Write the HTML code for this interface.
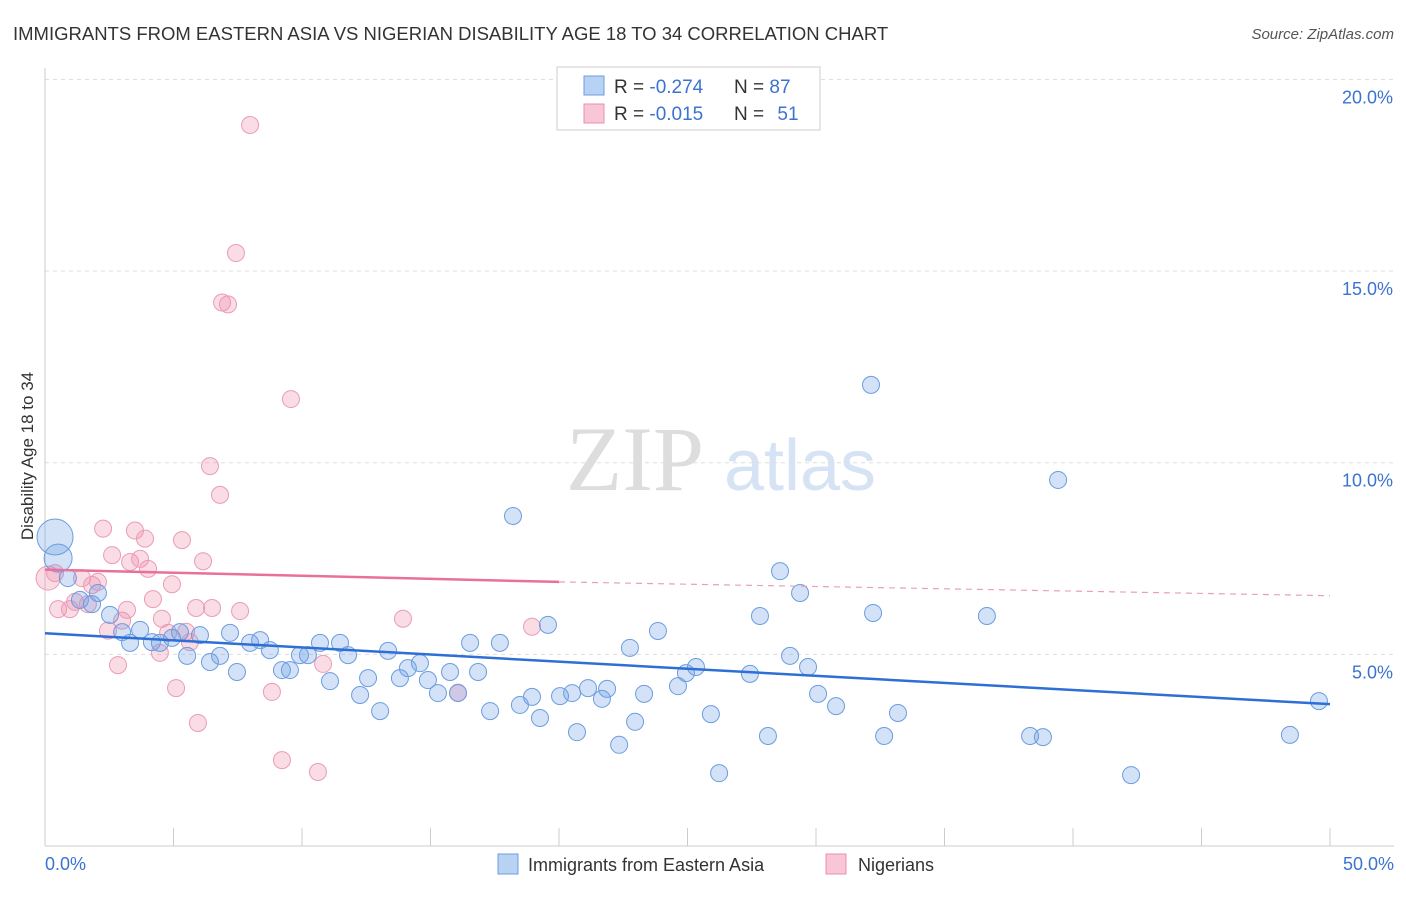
<!DOCTYPE html>
<html><head><meta charset="utf-8"><style>
body{margin:0;background:#fff;font-family:"Liberation Sans",sans-serif}
</style></head><body>
<svg id="chart" width="1406" height="892" xmlns="http://www.w3.org/2000/svg" font-family="Liberation Sans, sans-serif">
<text x="13" y="40" font-size="18.5" fill="#333">IMMIGRANTS FROM EASTERN ASIA VS NIGERIAN DISABILITY AGE 18 TO 34 CORRELATION CHART</text>
<text x="1394" y="39" font-size="15" fill="#555" text-anchor="end" font-style="italic">Source: ZipAtlas.com</text>
<g>
<text x="635" y="490" font-size="92" fill="#ddd" text-anchor="middle" font-family="Liberation Serif, serif">ZIP</text>
<text x="800" y="490" font-size="72" fill="#d5e3f5" text-anchor="middle">atlas</text>
</g>
<g id="grid"></g>
<g id="axes"></g>
<g id="points"></g>
<g id="trends"></g>
<text transform="translate(33,456) rotate(-90)" font-size="17" fill="#333" text-anchor="middle">Disability Age 18 to 34</text>
<g>
<rect x="557" y="67" width="263" height="63" fill="#fff" stroke="#ccc"/>
<rect x="584" y="76" width="20" height="19" fill="#b8d2f3" stroke="#6b9de0"/>
<rect x="584" y="104" width="20" height="19" fill="#f9c6d6" stroke="#e890b0"/>
<text x="614" y="93" font-size="19" fill="#333">R = <tspan fill="#3b73d0">-0.274</tspan></text>
<text x="734" y="93" font-size="19" fill="#333">N = <tspan fill="#3b73d0">87</tspan></text>
<text x="614" y="120" font-size="19" fill="#333">R = <tspan fill="#3b73d0">-0.015</tspan></text>
<text x="734" y="120" font-size="19" fill="#333">N = <tspan fill="#3b73d0" dx="8">51</tspan></text>
</g>
<g>
<rect x="498" y="854" width="20" height="20" fill="#b8d2f3" stroke="#6b9de0"/>
<text x="528" y="871" font-size="18" fill="#333">Immigrants from Eastern Asia</text>
<rect x="826" y="854" width="20" height="20" fill="#f9c6d6" stroke="#e890b0"/>
<text x="858" y="871" font-size="18" fill="#333">Nigerians</text>
</g>
</svg>
<script>
const yTicks=[5,10,15,20];
const yTickLabels=["5.0%","10.0%","15.0%","20.0%"];
const xTickLabels=["0.0%","50.0%"];
const blueX=[0.39,0.51,0.89,1.36,1.83,2.06,2.53,3.00,3.31,3.70,4.16,4.47,4.94,5.25,5.53,6.03,6.42,6.81,7.20,7.47,7.98,8.37,8.75,9.22,9.53,9.92,10.23,10.70,11.09,11.48,11.79,12.26,12.57,13.04,13.35,13.81,14.12,14.59,14.90,15.29,15.76,16.07,16.54,16.85,17.32,17.70,18.21,18.48,18.95,19.26,19.57,20.04,20.51,20.70,21.13,21.67,21.87,22.34,22.76,22.96,23.31,23.85,24.63,24.94,25.33,25.91,26.23,27.43,27.82,28.13,28.60,28.99,29.38,29.69,30.08,30.78,32.14,32.22,32.65,33.19,36.65,38.33,38.83,39.42,42.26,48.44,49.57];
const blueY=[8.06,7.51,6.99,6.42,6.31,6.60,6.03,5.58,5.30,5.64,5.32,5.30,5.43,5.58,4.96,5.50,4.80,4.96,5.56,4.54,5.30,5.37,5.11,4.59,4.59,4.98,4.98,5.30,4.30,5.30,4.98,3.94,4.38,3.52,5.09,4.38,4.64,4.77,4.33,3.99,4.54,3.99,5.30,4.54,3.52,5.30,8.61,3.68,3.89,3.34,5.77,3.91,3.99,2.97,4.12,3.84,4.10,2.64,5.17,3.24,3.97,5.61,4.17,4.51,4.67,3.44,1.90,4.49,6.00,2.87,7.17,4.96,6.60,4.67,3.97,3.65,12.03,6.08,2.87,3.47,6.00,2.87,2.84,9.55,1.85,2.90,3.78];
const pinkX=[0.12,0.39,0.51,0.97,1.17,1.44,1.67,1.83,2.06,2.26,2.45,2.61,2.84,3.00,3.19,3.31,3.50,3.70,3.89,4.01,4.20,4.47,4.55,4.79,4.94,5.10,5.33,5.49,5.64,5.88,5.95,6.15,6.42,6.50,6.81,6.89,7.12,7.43,7.59,7.98,8.83,9.22,9.57,10.62,10.82,13.93,16.07,18.95];
const pinkY=[6.99,7.12,6.18,6.18,6.37,6.99,6.31,6.81,6.89,8.28,5.62,7.59,4.72,5.88,6.16,7.41,8.23,7.49,8.02,7.23,6.44,5.04,5.93,5.56,6.83,4.12,7.98,5.59,5.32,6.21,3.21,7.43,9.91,6.21,9.16,14.18,14.13,15.47,6.13,18.81,4.02,2.24,11.66,1.93,4.75,5.93,4.00,5.72];
const blueSize=[18,14];
const ns="http://www.w3.org/2000/svg";
const X0=45,X1=1330,Y0=846,PY=38.33;
const xs=v=>X0+v/50*(X1-X0);
const ys=v=>Y0-v*PY;
function mk(t,a,p){const e=document.createElementNS(ns,t);for(const k in a)e.setAttribute(k,a[k]);p.appendChild(e);return e;}
const grid=document.getElementById('grid'),axes=document.getElementById('axes');
yTicks.forEach((t,i)=>{
const l=mk('line',{x1:X0,x2:1394,y1:ys(t),y2:ys(t),stroke:'#ddd','stroke-dasharray':'4,4'},grid);


const tx=mk('text',{x:1393,y:ys(t)+24,'font-size':18,fill:'#3b73d0','text-anchor':'end'},axes);
tx.textContent=yTickLabels[i];


});
const ax=mk('line',{x1:X0,x2:X0,y1:68,y2:Y0,stroke:'#ccc'},axes);


const bx=mk('line',{x1:X0,x2:1394,y1:Y0,y2:Y0,stroke:'#ccc'},axes);


for(let i=0;i<=10;i++){
const t=mk('line',{x1:xs(i*5),x2:xs(i*5),y1:828,y2:Y0,stroke:'#ccc'},axes);


}
[[0,45,'start'],[1,1394,'end']].forEach(([i,x,a])=>{
const t=mk('text',{x:x,y:870,'font-size':18,fill:'#3b73d0','text-anchor':a},axes);
t.textContent=xTickLabels[i];


});
const pts=document.getElementById('points');
pinkX.forEach((v,i)=>{
const c=mk('circle',{cx:xs(v),cy:ys(pinkY[i]),r:i==0?12:8.5,fill:'rgba(240,140,170,0.3)',stroke:'#eb9bb8','stroke-width':1},pts);


});
blueX.forEach((v,i)=>{
const c=mk('circle',{cx:xs(v),cy:ys(blueY[i]),r:i<2?blueSize[i]:8.5,fill:'rgba(110,160,230,0.3)',stroke:'#6b9de0','stroke-width':1},pts);


});
const tr=document.getElementById('trends');
const b=mk('line',{x1:xs(0),y1:ys(5.55),x2:xs(50),y2:ys(3.7),stroke:'#2d6fd6','stroke-width':2.5},tr);


const p1=mk('line',{x1:xs(0),y1:ys(7.21),x2:xs(20),y2:ys(6.89),stroke:'#e8709a','stroke-width':2.5},tr);


const p2=mk('line',{x1:xs(20),y1:ys(6.89),x2:xs(50),y2:ys(6.53),stroke:'#e8a0ba','stroke-width':1.2,'stroke-dasharray':'6,5'},tr);


</script>
</body></html>
